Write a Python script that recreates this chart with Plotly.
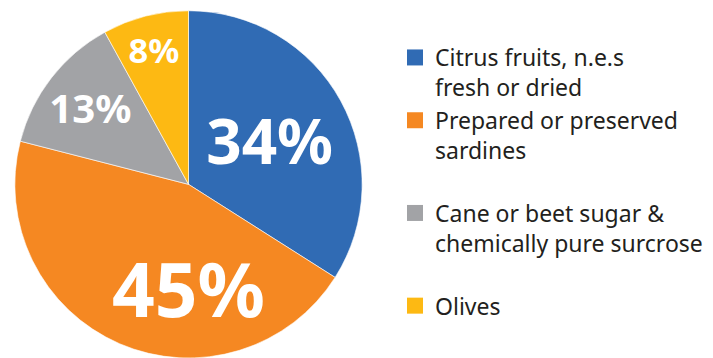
import plotly.graph_objects as go

labels = ["Citrus fruits, n.e.s<br>fresh or dried",
          "Prepared or preserved<br>sardines<br> ",
          "Cane or beet sugar &<br>chemically pure surcrose<br> ",
          "Olives"]
values = [34, 45, 13, 8]
colors = ["#306BB4", "#F58822", "#A2A3A6", "#FDB913"]
text_sizes = [62, 86, 50, 36]

fig = go.Figure()
fig.add_trace(go.Pie(
    labels=labels, values=values, sort=False, direction="clockwise", rotation=0,
    marker=dict(colors=colors, line=dict(color="white", width=0.6)),
    texttemplate="%{percent:.0%}", textposition="inside",
    insidetextorientation="horizontal",
    textfont=dict(family="Noto Sans", color="white", size=text_sizes, weight="bold"),
    showlegend=False, hoverinfo="skip",
    domain=dict(x=[13/713, 364/713], y=[0, 0.97]),
))
for lab, col in zip(labels, colors):
    fig.add_trace(go.Scatter(x=[None], y=[None], mode="markers", name=lab,
                             marker=dict(symbol="square", size=17, color=col),
                             showlegend=True))

fig.update_layout(
    width=713, height=358, margin=dict(l=0, r=0, t=0, b=0),
    paper_bgcolor="white", plot_bgcolor="white",
    xaxis=dict(visible=False), yaxis=dict(visible=False),
    legend=dict(x=395/713, xanchor="left", y=1 - 36/358, yanchor="top",
                valign="top", font=dict(family="Noto Sans", size=23, color="#231F20"),
                bgcolor="rgba(0,0,0,0)"),
)
fig.write_html("out.html")
